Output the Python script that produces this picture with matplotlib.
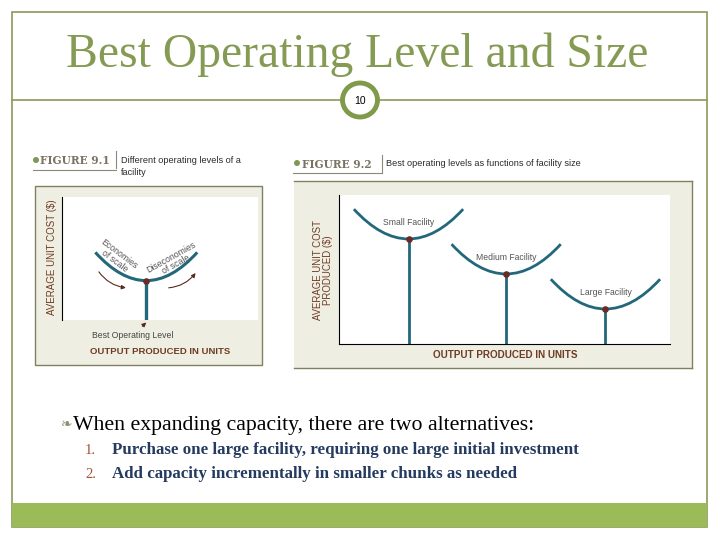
import numpy as np
import matplotlib.pyplot as plt
from matplotlib.patches import Rectangle, Ellipse, Circle, PathPatch
from matplotlib.path import Path

# slide text
title = 'Best Operating Level and Size'
slide_no = '10'
bullet_text = 'When expanding capacity, there are two alternatives:'
item_numbers = ['1.', '2.']
item_texts = ['Purchase one large facility, requiring one large initial investment',
              'Add capacity incrementally in smaller chunks as needed']

# figure 9.1 - one facility (output units / cost, 0-100 scale)
fig1_output = [17, 43, 69]   # left end, best operating level, right end
fig1_cost = [55, 32, 55]

# figure 9.2 - best operating level by facility size
facility_names = ['Small Facility', 'Medium Facility', 'Large Facility']
best_output = [21, 50.5, 80.5]
best_cost = [70.5, 47, 23.5]
edge_cost = [90.5, 67, 43.5]
output_halfwidth = [16.5, 16.5, 16.5]

# colours
olive = '#8a9a5b'
green_bar = '#9bbb59'
teal = '#22687a'
dot_col = '#6b2a26'
brown = '#6e3b23'
panel_bg = '#efeee3'
panel_edge = '#7f8060'

W, H = 720, 540
fig = plt.figure(figsize=(7.2, 5.4), dpi=100)
bg = fig.add_axes([0, 0, 1, 1])
bg.set_xlim(0, W)
bg.set_ylim(H, 0)
bg.axis('off')

serif = 'Liberation Serif'
sans = 'Liberation Sans'


def px_axes(x0, y0, x1, y1):
    return fig.add_axes([x0 / W, 1 - y1 / H, (x1 - x0) / W, (y1 - y0) / H])


def u_curve(ax, xm, ym, half, top, lw=2.0):
    h = top - ym
    verts = [(xm - half, top), (xm, ym - h), (xm + half, top)]
    p = Path(verts, [Path.MOVETO, Path.CURVE3, Path.CURVE3])
    ax.add_patch(PathPatch(p, fill=False, ec=teal, lw=lw, capstyle='butt', zorder=3))


# slide frame
bg.add_patch(Rectangle((12, 12), 695, 515, fill=False, ec=olive, lw=1.2))
bg.add_patch(Rectangle((12, 503), 695, 24, fc=green_bar, ec='none'))
bg.text(357, 67, title, family=serif, fontsize=34.3, color='#859a52',
        ha='center', va='baseline')
bg.plot([12, 707], [100, 100], color=olive, lw=1.2)
bg.add_patch(Ellipse((360, 100), 35, 34, fc='white', ec='#7f9a48', lw=3.5, zorder=4))
bg.text(360, 101, slide_no, fontsize=7.5, family=sans, ha='center', va='center', zorder=5)

# ---- figure 9.1 ----
bg.add_patch(Rectangle((35, 186), 227, 179, fc=panel_bg, ec=panel_edge, lw=1.0))
bg.add_patch(Circle((36, 160), 3, fc='#7d9a55', ec='none'))
bg.text(40, 160, 'FIGURE 9.1', family='DejaVu Serif', fontweight='bold', fontsize=7.6,
        color='#7a7262', va='center')
bg.plot([116, 116], [151, 168], color='#8a8a7a', lw=0.8)
bg.plot([33, 116], [170, 170], color='#8a8a7a', lw=0.8)
bg.text(121, 166.5, 'Different operating levels of a\nfacility', family=sans,
        fontsize=6.6, color='#2a2a2a', va='center', linespacing=1.3)

ax1 = px_axes(62, 197, 258, 320)
ax1.set_xlim(0, 100)
ax1.set_ylim(0, 100)
for s in ['top', 'right', 'bottom']:
    ax1.spines[s].set_visible(False)
ax1.spines['left'].set_color('black')
ax1.set_xticks([])
ax1.set_yticks([])
u_curve(ax1, fig1_output[1], fig1_cost[1], (fig1_output[2] - fig1_output[0]) / 2, fig1_cost[0], lw=2.2)
ax1.plot([fig1_output[1]] * 2, [0, fig1_cost[1]], color=teal, lw=2.4, solid_capstyle='butt')
ax1.scatter([fig1_output[1]], [fig1_cost[1]], s=14, color=dot_col, zorder=5)
ax1.text(28, 51, 'Economies\nof scale', rotation=-37, fontsize=6.3, color='#555555',
         ha='center', va='center', family=sans, linespacing=0.95)
ax1.text(57, 48, 'Diseconomies\nof scale', rotation=29, fontsize=6.3, color='#555555',
         ha='center', va='center', family=sans, linespacing=0.95)
arrow_kw = dict(arrowstyle='-|>', color='#5a2a20', lw=0.8, mutation_scale=6,
                connectionstyle='arc3,rad=0.25')
ax1.annotate('', xy=(34, 26), xytext=(18, 41), arrowprops=arrow_kw)
ax1.annotate('', xy=(69, 40), xytext=(53, 26), arrowprops=arrow_kw)
ax1.annotate('Best Operating Level', xy=(fig1_output[1], -2), xytext=(36, -12.5),
             fontsize=6.2, color='#444444', family=sans, ha='center', va='center',
             annotation_clip=False,
             arrowprops=dict(arrowstyle='-|>', color='#5a2a20', lw=0.8, mutation_scale=6,
                             shrinkA=2, shrinkB=0))
bg.text(52, 257, 'AVERAGE UNIT COST ($)', rotation=90, family=sans, fontsize=7.0,
        color=brown, ha='center', va='center')
bg.text(160, 352, 'OUTPUT PRODUCED IN UNITS', family=sans, fontweight='bold', fontsize=6.8,
        color=brown, ha='center', va='center')

# ---- figure 9.2 ----
bg.add_patch(Rectangle((294, 181), 398, 187, fc=panel_bg, ec='none'))
bg.plot([294, 692], [181, 181], color=panel_edge, lw=1.0)
bg.plot([294, 692], [368, 368], color=panel_edge, lw=1.0)
bg.plot([692, 692], [181, 368], color=panel_edge, lw=1.0)
bg.add_patch(Circle((297, 163), 3, fc='#7d9a55', ec='none'))
bg.text(302, 164, 'FIGURE 9.2', family='DejaVu Serif', fontweight='bold', fontsize=7.6,
        color='#7a7262', va='center')
bg.plot([382, 382], [155, 173], color='#8a8a7a', lw=0.8)
bg.plot([293, 382], [173, 173], color='#8a8a7a', lw=0.8)
bg.text(386, 164, 'Best operating levels as functions of facility size', family=sans,
        fontsize=6.6, color='#2a2a2a', va='center')

ax2 = px_axes(339, 195, 670, 344)
ax2.set_xlim(0, 100)
ax2.set_ylim(0, 100)
ax2.spines['top'].set_visible(False)
ax2.spines['right'].set_visible(False)
ax2.set_xticks([])
ax2.set_yticks([])
for name, xm, ym, top, half in zip(facility_names, best_output, best_cost, edge_cost, output_halfwidth):
    u_curve(ax2, xm, ym, half, top, lw=2.0)
    ax2.plot([xm, xm], [0, ym], color=teal, lw=2.0, solid_capstyle='butt')
    ax2.text(xm, ym + 11, name, fontsize=6.2, color='#555555', ha='center', va='center',
             family=sans)
ax2.scatter(best_output, best_cost, s=14, color=dot_col, zorder=5)
bg.text(323, 270, 'AVERAGE UNIT COST\nPRODUCED ($)', rotation=90, family=sans, fontsize=6.9,
        color=brown, ha='center', va='center', linespacing=1.0)
bg.text(505, 355, 'OUTPUT PRODUCED IN UNITS', family=sans, fontweight='bold', fontsize=7.1,
        color=brown, ha='center', va='center')

# ---- bullet text ----
bg.text(61, 424, '\u2767', family='DejaVu Sans', fontsize=10, color='#8a9270', ha='left', va='center')
bg.text(73, 430, bullet_text, family=serif, fontsize=15.7, color='black', ha='left', va='baseline')
for i, (num, txt) in enumerate(zip(item_numbers, item_texts)):
    y = 454 + i * 24
    bg.text(85, y, num, family=serif, fontsize=10.5, color='#a0523a', ha='left', va='baseline')
    bg.text(112, y, txt, family=serif, fontsize=12.2, color='#243a5e', ha='left', va='baseline',
            fontweight='bold')

fig.savefig('out.png', dpi=100, facecolor='white')
